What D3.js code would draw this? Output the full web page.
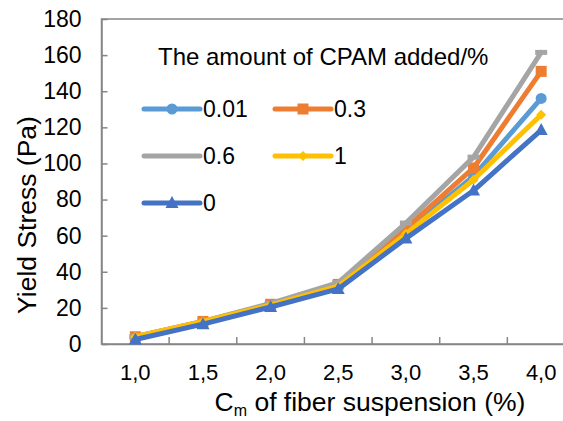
<!DOCTYPE html>
<html>
<head>
<meta charset="utf-8">
<script src="https://cdn.jsdelivr.net/npm/d3@7"></script>
<style>
body{margin:0;background:#fff;}
svg{display:block;font-family:"Liberation Sans",Arial,sans-serif;}
</style>
</head>
<body>
<svg id="chart" width="563" height="421"></svg>
<script>
const categories = ["1,0","1,5","2,0","2,5","3,0","3,5","4,0"];
const yTicks = [0,20,40,60,80,100,120,140,160,180];
const seriesNames = ["0.01","0.3","0.6","1","0"];
const s001 = [3.5, 12, 21.5, 32, 62, 93, 136];
const s03  = [4, 12.5, 22, 33, 64, 97.5, 151];
const s06  = [4, 12.5, 22.5, 34, 67, 103.5, 161.5];
const s1   = [4, 12.5, 21.5, 32, 61, 91, 127];
const s0   = [2.5, 11, 20.5, 30.5, 58.5, 85, 118.5];
const seriesValues = [s001, s03, s06, s1, s0];
const colors = ["#5B9BD5","#ED7D31","#A5A5A5","#FFC000","#4472C4"];
const markers = ["circle","square","dash","diamond","triangle"];
const legendTitle = "The amount of CPAM added/%";
const yTitle = "Yield Stress (Pa)";

const svg = d3.select("#chart");
const pLeft = 101.5, pRight = 575, pTop = 19, pBottom = 344;
const x = d3.scaleBand().domain(categories).range([pLeft, pRight]).padding(0);
const y = d3.scaleLinear().domain([0,180]).range([pBottom, pTop]);
const axisColor = "#868686";

// plot frame
svg.append("rect").attr("x", pLeft).attr("y", pTop).attr("width", pRight-pLeft).attr("height", pBottom-pTop)
  .attr("fill","none").attr("stroke", axisColor).attr("stroke-width", 1.5);

// y axis
const yAxis = svg.append("g").attr("transform", `translate(${pLeft},0)`)
  .call(d3.axisLeft(y).tickValues(yTicks).tickSizeInner(-6).tickSizeOuter(0).tickPadding(10));
yAxis.select(".domain").attr("stroke", axisColor).attr("stroke-width",1.5);
yAxis.selectAll(".tick line").attr("stroke", axisColor).attr("stroke-width",1.5);
yAxis.selectAll(".tick text").attr("font-size", 23).attr("fill","#000").attr("font-family","Liberation Sans, Arial, sans-serif").attr("x",-20);

// x axis
const xAxis = svg.append("g").attr("transform", `translate(0,${pBottom})`)
  .call(d3.axisBottom(x).tickSize(0).tickPadding(20));
xAxis.select(".domain").attr("stroke", axisColor).attr("stroke-width",1.5);
xAxis.selectAll(".tick text").attr("font-size", 22).attr("fill","#000").attr("font-family","Liberation Sans, Arial, sans-serif");
// category separators (ticks between categories, inward)
const sepG = svg.append("g");
categories.slice(1).forEach(c => {
  const xx = x(c);
  sepG.append("line").attr("x1", xx).attr("x2", xx).attr("y1", pBottom).attr("y2", pBottom-7)
    .attr("stroke", axisColor).attr("stroke-width", 1.5);
});

// axis titles
svg.append("text").attr("transform", `translate(36,215) rotate(-90)`).attr("text-anchor","middle")
  .attr("font-size", 26.5).attr("fill","#000").text(yTitle);
const xt = svg.append("text").attr("x", 370).attr("y", 411).attr("text-anchor","middle").attr("font-size", 26.5).attr("fill","#000");
xt.append("tspan").text("C");
xt.append("tspan").attr("font-size", 16).attr("dy", 5).text("m");
xt.append("tspan").attr("dy", -5).text(" of fiber suspension (%)");

function drawMarker(g, type, cx, cy, color) {
  if (type === "circle") g.append("circle").attr("cx",cx).attr("cy",cy).attr("r",5.5).attr("fill",color);
  else if (type === "square") g.append("rect").attr("x",cx-5.5).attr("y",cy-5.5).attr("width",11).attr("height",11).attr("fill",color);
  else if (type === "dash") g.append("rect").attr("x",cx-6).attr("y",cy-2.5).attr("width",12).attr("height",5).attr("fill",color);
  else if (type === "diamond") g.append("path").attr("d",`M${cx},${cy-5}L${cx+5},${cy}L${cx},${cy+5}L${cx-5},${cy}Z`).attr("fill",color);
  else if (type === "triangle") g.append("path").attr("d",`M${cx},${cy-7}L${cx+6.5},${cy+5}L${cx-6.5},${cy+5}Z`).attr("fill",color);
}

// series
const line = d3.line().x((d,i) => x(categories[i]) + x.bandwidth()/2).y(d => y(d));
seriesValues.forEach((vals, si) => {
  const g = svg.append("g");
  g.append("path").attr("d", line(vals)).attr("fill","none").attr("stroke", colors[si])
    .attr("stroke-width", 5).attr("stroke-linejoin","round").attr("stroke-linecap","round");
  vals.forEach((v,i) => drawMarker(g, markers[si], x(categories[i]) + x.bandwidth()/2, y(v), colors[si]));
});

// legend
svg.append("text").attr("x", 158).attr("y", 65).attr("font-size", 24).attr("fill","#000").text(legendTitle);
const legPos = [[144,109],[275,109],[144,156],[275,156],[144,203]];
seriesNames.forEach((n, si) => {
  const [lx, ly] = legPos[si];
  const g = svg.append("g");
  g.append("line").attr("x1", lx).attr("x2", lx+56).attr("y1", ly).attr("y2", ly)
    .attr("stroke", colors[si]).attr("stroke-width", 5).attr("stroke-linecap","round");
  if (markers[si] !== "dash") drawMarker(g, markers[si], lx+28, ly, colors[si]);
  g.append("text").attr("x", lx+59).attr("y", ly+8).attr("font-size", 23).attr("fill","#000").text(n);
});
</script>
</body>
</html>
